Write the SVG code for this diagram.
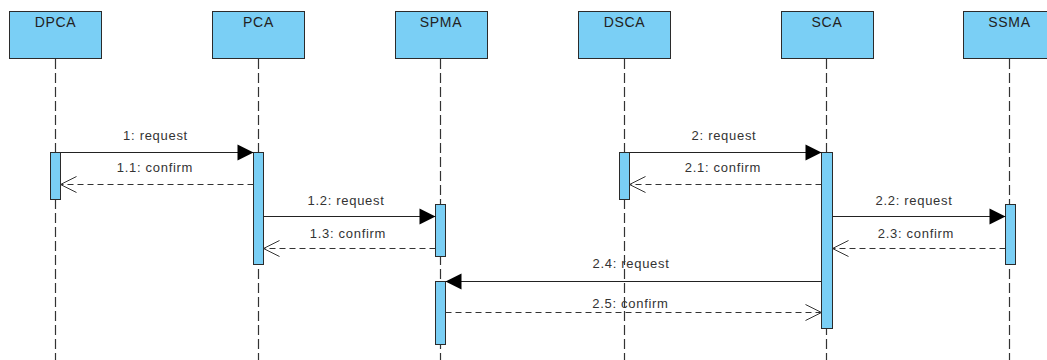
<svg xmlns="http://www.w3.org/2000/svg" width="1047" height="360" viewBox="0 0 1047 360">
  <style>
    .head { fill: #7acff5; stroke: #2b2b2b; stroke-width: 1; }
    .head-label { font-family: "Liberation Sans", Arial, sans-serif; font-size: 14px; letter-spacing: 0.7px; fill: #222; text-anchor: middle; }
    .lifeline { stroke: #333; stroke-width: 1.2; stroke-dasharray: 10 4; fill: none; }
    .act { fill: #7acff5; stroke: #2b2b2b; stroke-width: 1; }
    .call { stroke: #222; stroke-width: 1; fill: none; marker-end: url(#filled); }
    .reply { stroke: #333; stroke-width: 1; fill: none; stroke-dasharray: 6 4; marker-end: url(#open); }
    .msg { font-family: "Liberation Sans", Arial, sans-serif; font-size: 13px; letter-spacing: 0.7px; fill: #333; text-anchor: middle; }
  </style>
  <defs>
    <marker id="filled" markerUnits="userSpaceOnUse" markerWidth="18" markerHeight="18" refX="16" refY="8" orient="auto" overflow="visible">
      <path d="M0,0 L16,8 L0,16 Z" fill="#000"/>
    </marker>
    <marker id="open" markerUnits="userSpaceOnUse" markerWidth="18" markerHeight="18" refX="16" refY="8" orient="auto" overflow="visible">
      <path d="M0,0 L16,8 L0,16" fill="none" stroke="#333" stroke-width="1"/>
    </marker>
  </defs>

  <rect width="1047" height="360" fill="#fff"/>

  <!-- Lifelines: head box, dashed line, activation bars -->
  <g id="DPCA">
    <line class="lifeline" x1="55.5" y1="59" x2="55.5" y2="360"/>
    <rect class="head" x="9.5" y="11.5" width="92" height="47"/>
    <text class="head-label" x="55.5" y="27">DPCA</text>
    <rect class="act" x="50.5" y="152.5" width="10" height="47"/>
  </g>

  <g id="PCA">
    <line class="lifeline" x1="258.5" y1="59" x2="258.5" y2="360"/>
    <rect class="head" x="212.5" y="11.5" width="92" height="47"/>
    <text class="head-label" x="258.5" y="27">PCA</text>
    <rect class="act" x="253.5" y="152.5" width="10" height="112"/>
  </g>

  <g id="SPMA">
    <line class="lifeline" x1="440.5" y1="59" x2="440.5" y2="360"/>
    <rect class="head" x="395.5" y="11.5" width="92" height="47"/>
    <text class="head-label" x="441" y="27">SPMA</text>
    <rect class="act" x="435.5" y="204.5" width="10" height="52"/>
    <rect class="act" x="435.5" y="281.5" width="10" height="63"/>
  </g>

  <g id="DSCA">
    <line class="lifeline" x1="624.5" y1="59" x2="624.5" y2="360"/>
    <rect class="head" x="578.5" y="11.5" width="92" height="47"/>
    <text class="head-label" x="624.5" y="27">DSCA</text>
    <rect class="act" x="619.5" y="152.5" width="10" height="47"/>
  </g>

  <g id="SCA">
    <line class="lifeline" x1="826.5" y1="59" x2="826.5" y2="360"/>
    <rect class="head" x="781.5" y="11.5" width="92" height="47"/>
    <text class="head-label" x="827" y="27">SCA</text>
    <rect class="act" x="821.5" y="152.5" width="11" height="176"/>
  </g>

  <g id="SSMA">
    <line class="lifeline" x1="1009.5" y1="59" x2="1009.5" y2="360"/>
    <rect class="head" x="963.5" y="11.5" width="92" height="47"/>
    <text class="head-label" x="1009.5" y="27">SSMA</text>
    <rect class="act" x="1005.5" y="204.5" width="10" height="60"/>
  </g>

  <!-- Messages -->
  <g id="connectors">
    <line class="call" x1="60.5" y1="152.5" x2="253.5" y2="152.5"/>
    <text class="msg" x="155.5" y="140">1: request</text>

    <line class="reply" x1="253.5" y1="184.5" x2="60.5" y2="184.5"/>
    <text class="msg" x="155" y="172">1.1: confirm</text>

    <line class="call" x1="263.5" y1="216.5" x2="435.5" y2="216.5"/>
    <text class="msg" x="346" y="205">1.2: request</text>

    <line class="reply" x1="435.5" y1="248.5" x2="263.5" y2="248.5"/>
    <text class="msg" x="348" y="237.5">1.3: confirm</text>

    <line class="call" x1="629.5" y1="152.5" x2="821.5" y2="152.5"/>
    <text class="msg" x="724" y="140">2: request</text>

    <line class="reply" x1="821.5" y1="184.5" x2="629.5" y2="184.5"/>
    <text class="msg" x="723" y="172">2.1: confirm</text>

    <line class="call" x1="832.5" y1="216.5" x2="1005.5" y2="216.5"/>
    <text class="msg" x="914" y="205">2.2: request</text>

    <line class="reply" x1="1005.5" y1="248.5" x2="832.5" y2="248.5"/>
    <text class="msg" x="916" y="237.5">2.3: confirm</text>

    <line class="call" x1="821.5" y1="281.5" x2="445.5" y2="281.5"/>
    <text class="msg" x="631" y="268">2.4: request</text>

    <line class="reply" x1="445.5" y1="312.5" x2="821.5" y2="312.5"/>
    <text class="msg" x="630.5" y="308">2.5: confirm</text>
  </g>
</svg>
